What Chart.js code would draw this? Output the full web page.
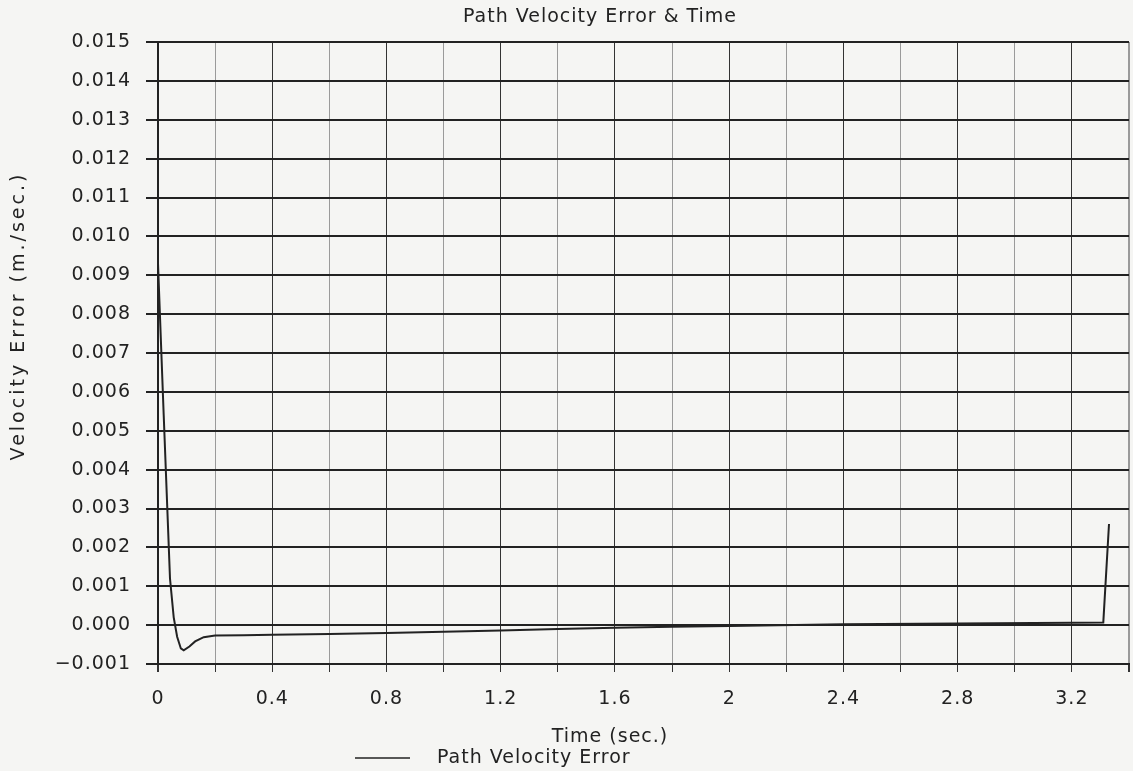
<!DOCTYPE html>
<html>
<head>
<meta charset="utf-8">
<title>Path Velocity Error & Time</title>
<script src="https://cdn.jsdelivr.net/npm/chart.js@4/dist/chart.umd.min.js"></script>
<style>
    html, body { margin: 0; padding: 0; background: #f5f5f3; overflow: hidden; }
    canvas { display: block; }
</style>
</head>
<body>
<canvas id="chart" width="1133" height="771"></canvas>
<script>
// Values
const times = [0, 0.02, 0.042, 0.055, 0.067, 0.08, 0.09, 0.11, 0.13, 0.16, 0.2, 0.3, 0.4,
    0.6, 0.8, 1.0, 1.2, 1.4, 1.6, 1.8, 2.0, 2.4, 2.8, 3.2, 3.31, 3.33];
const velocityError = [0.0093, 0.0054, 0.0012, 0.0002, -0.0003, -0.0006, -0.00065, -0.00055,
    -0.00042, -0.00031, -0.00027, -0.00026, -0.00025, -0.00023, -0.0002, -0.00017, -0.00014,
    -0.0001, -0.00007, -0.00004, -0.00002, 0.00002, 0.00004, 0.00006, 0.00007, 0.0026];

const xTicks = [0, 0.2, 0.4, 0.6, 0.8, 1.0, 1.2, 1.4, 1.6, 1.8, 2.0, 2.2, 2.4, 2.6, 2.8, 3.0, 3.2, 3.4];
const xTickLabels = ['0', '', '0.4', '', '0.8', '', '1.2', '', '1.6', '', '2', '', '2.4', '', '2.8', '', '3.2', ''];
const yTicks = [-0.001, 0, 0.001, 0.002, 0.003, 0.004, 0.005, 0.006, 0.007, 0.008, 0.009,
    0.010, 0.011, 0.012, 0.013, 0.014, 0.015];
const yTickLabels = ['\u22120.001', '0.000', '0.001', '0.002', '0.003', '0.004', '0.005', '0.006',
    '0.007', '0.008', '0.009', '0.010', '0.011', '0.012', '0.013', '0.014', '0.015'];

const ink = '#222';
const font = 'DejaVu Sans';

// the plotter font is wide, so spread every label a little
const wideText = {
    id: 'wideText',
    beforeDraw(chart) {
        chart.ctx.letterSpacing = '1px';
    }
};

// title, axis titles and legend placed where the plotter put them
const paperText = {
    id: 'paperText',
    afterDraw(chart) {
        const ctx = chart.ctx;
        ctx.save();
        ctx.fillStyle = ink;
        ctx.textBaseline = 'middle';
        ctx.font = '19px "' + font + '"';
        ctx.letterSpacing = '1px';

        ctx.textAlign = 'center';
        ctx.fillText('Path Velocity Error & Time', 600, 17);
        ctx.fillText('Time (sec.)', 610, 737);

        ctx.save();
        ctx.letterSpacing = '3px';
        ctx.translate(19, 316);
        ctx.rotate(-Math.PI / 2);
        ctx.fillText('Velocity Error (m./sec.)', 0, 0);
        ctx.restore();

        ctx.strokeStyle = ink;
        ctx.lineWidth = 1.5;
        ctx.beginPath();
        ctx.moveTo(355, 758);
        ctx.lineTo(410, 758);
        ctx.stroke();
        ctx.textAlign = 'left';
        ctx.fillText('Path Velocity Error', 437, 758);
        ctx.restore();
    }
};

new Chart(document.getElementById('chart'), {
    type: 'line',
    data: {
        datasets: [{
            label: 'Path Velocity Error',
            data: times.map((t, i) => ({x: t, y: velocityError[i]})),
            borderColor: ink,
            borderWidth: 2,
            pointRadius: 0,
            tension: 0,
            fill: false
        }]
    },
    options: {
        responsive: false,
        animation: false,
        devicePixelRatio: 1,
        layout: {padding: {top: 42, right: 4, left: 0, bottom: 0}},
        plugins: {
            legend: {display: false},
            title: {display: false},
            tooltip: {enabled: false}
        },
        scales: {
            x: {
                type: 'linear',
                min: 0,
                max: 3.4,
                afterBuildTicks: scale => { scale.ticks = xTicks.map(v => ({value: v})); },
                afterFit: scale => {
                    scale.height = 107;
                    scale.paddingLeft = 0;
                    scale.paddingRight = 0;
                },
                ticks: {
                    autoSkip: false,
                    maxRotation: 0,
                    padding: 16,
                    color: ink,
                    font: {family: font, size: 19},
                    callback: (v, i) => xTickLabels[i]
                },
                grid: {
                    color: ctx => (ctx.index % 2 === 0 ? '#333' : '#9a9a9a'),
                    lineWidth: ctx => (ctx.index === 0 || ctx.index === xTicks.length - 1 ? 2 : 1),
                    tickColor: '#333',
                    tickLength: 8
                },
                border: {color: ink, width: 2}
            },
            y: {
                min: -0.001,
                max: 0.015,
                afterBuildTicks: scale => { scale.ticks = yTicks.map(v => ({value: v})); },
                afterFit: scale => { scale.width = 158; },
                ticks: {
                    autoSkip: false,
                    padding: 15,
                    color: ink,
                    font: {family: font, size: 19},
                    callback: (v, i) => yTickLabels[i]
                },
                grid: {
                    color: ink,
                    lineWidth: 2,
                    tickColor: ink,
                    tickLength: 12
                },
                border: {color: ink, width: 2}
            }
        }
    },
    plugins: [wideText, paperText]
});
</script>
</body>
</html>
